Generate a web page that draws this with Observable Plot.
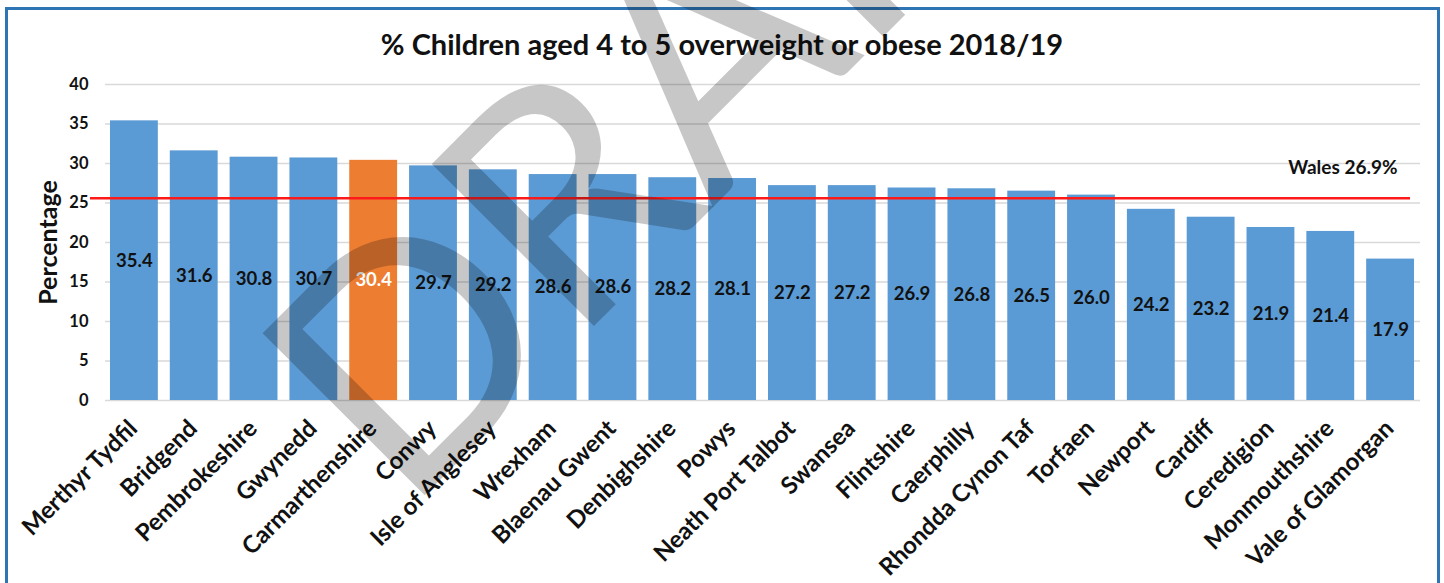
<!DOCTYPE html>
<html><head><meta charset="utf-8">
<script src="https://cdn.jsdelivr.net/npm/d3@7"></script>
<script src="https://cdn.jsdelivr.net/npm/@observablehq/plot@0.6"></script>
<style>
html,body{margin:0;padding:0;background:#fff;}
body{width:1444px;height:583px;overflow:hidden;position:relative;font-family:Lato,"Open Sans",sans-serif;}
#frame{position:absolute;left:5px;top:7px;width:1435px;height:640px;border:3.5px solid #2E75B6;box-sizing:border-box;}
#title{position:absolute;top:26px;left:0;width:1444px;text-align:center;font-weight:700;font-size:29px;line-height:36px;color:#111;font-family:Lato,sans-serif;}
#chart{position:absolute;left:0;top:0;}
#wm{position:absolute;left:0;top:0;pointer-events:none;}
</style></head>
<body>
<div id="frame"></div>
<div id="title">% Children aged 4 to 5 overweight or obese 2018/19</div>
<div id="chart"></div>
<svg id="wm" width="1444" height="583"><text x="404" y="516" transform="rotate(-45 404 516)" font-family="Lato" font-weight="400" font-size="320" letter-spacing="-4" fill="#000" fill-opacity="0.22">DRAFT</text></svg>
<script>
const areas = ["Merthyr Tydfil","Bridgend","Pembrokeshire","Gwynedd","Carmarthenshire","Conwy","Isle of Anglesey","Wrexham","Blaenau Gwent","Denbighshire","Powys","Neath Port Talbot","Swansea","Flintshire","Caerphilly","Rhondda Cynon Taf","Torfaen","Newport","Cardiff","Ceredigion","Monmouthshire","Vale of Glamorgan"];
const values = [35.4,31.6,30.8,30.7,30.4,29.7,29.2,28.6,28.6,28.2,28.1,27.2,27.2,26.9,26.8,26.5,26.0,24.2,23.2,21.9,21.4,17.9];
const highlightArea = "Carmarthenshire";
const yTicks = [0,5,10,15,20,25,30,35,40];
const walesLineLevel = 25.6;
const walesLabel = "Wales 26.9%";
const walesLabelLevel = 29.4;
const yLabel = "Percentage";

const data = areas.map((a,i)=>({area:a,value:values[i]}));
const blue = "#5B9BD5", orange = "#ED7D31";

const chart = Plot.plot({
  width:1444, height:583,
  marginTop:84, marginBottom:183, marginLeft:104, marginRight:24,
  style:{fontFamily:"Lato, sans-serif", color:"#111", background:"transparent"},
  x:{domain:areas, paddingInner:0.2, paddingOuter:0.1, round:false, label:null},
  y:{domain:[0,40], label:null},
  color:{type:"identity"},
  marks:[
    Plot.gridY(yTicks,{stroke:"#d9d9d9",strokeOpacity:1,strokeWidth:1.5,insetLeft:1}),
    Plot.barY(data,{x:"area",y:"value",fill:d=>d.area===highlightArea?orange:blue}),
    Plot.ruleY([walesLineLevel],{stroke:"#ff1a1a",strokeWidth:2.5,insetLeft:-14,insetRight:10}),
    Plot.text(data,{x:"area",y:d=>d.value/2,text:d=>d.value.toFixed(1),fill:d=>d.area===highlightArea?"#fff":"#111",fontWeight:700,fontSize:18.5}),
    Plot.text([walesLabel],{x:()=>areas[areas.length-1],y:()=>walesLabelLevel,text:d=>d,textAnchor:"end",dx:7,fontWeight:700,fontSize:19,fill:"#111"}),
    Plot.axisY({ticks:yTicks,tickSize:0,tickPadding:16,fontSize:16.5,fontWeight:700,label:null}),
    Plot.axisX({tickSize:0,tickRotate:-45,tickPadding:24,dx:-1,fontSize:24,fontWeight:700,label:null}),
    Plot.text([yLabel],{frameAnchor:"left",textAnchor:"middle",rotate:-90,dx:-56,fontSize:25,fontWeight:700,fill:"#111"})
  ]
});
document.getElementById("chart").appendChild(chart);
</script>
</body></html>
